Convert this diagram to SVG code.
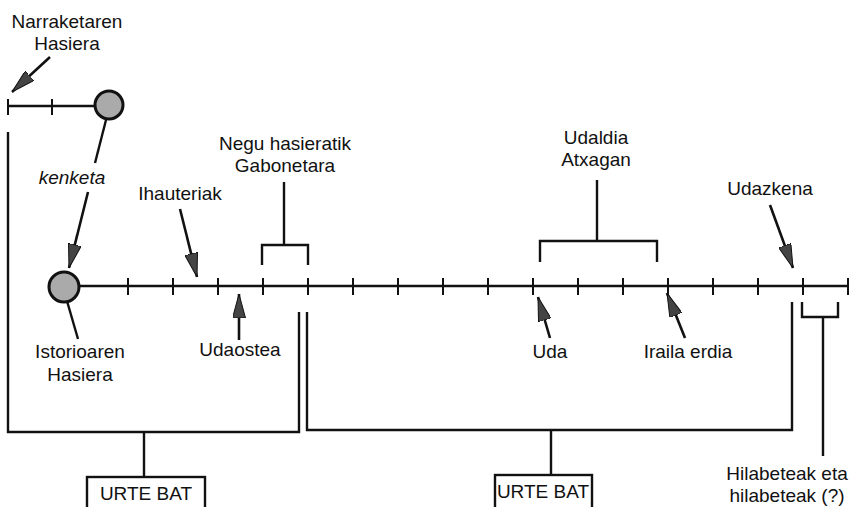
<svg xmlns="http://www.w3.org/2000/svg" width="850" height="507" viewBox="0 0 850 507">
<defs>
<marker id="ah" viewBox="0 0 24 13" refX="24" refY="6.5" markerWidth="24" markerHeight="13" markerUnits="userSpaceOnUse" orient="auto">
<path d="M0,0 L24,6.5 L0,13 Z" fill="#444" stroke="#111" stroke-width="1"/>
</marker>
</defs>
<style>
.ln{stroke:#111;stroke-width:2.4;fill:none;stroke-linecap:butt}
.tk{stroke:#111;stroke-width:2;fill:none}
.ar{stroke:#111;stroke-width:2.6;fill:none;marker-end:url(#ah)}
.t{font-family:"Liberation Sans",Arial,sans-serif;font-size:19px;fill:#111;text-anchor:middle}
.it{font-style:italic}
.dot{fill:#aaa;stroke:#111;stroke-width:3}
.box{fill:#fff;stroke:#111;stroke-width:2.4}
</style>
<rect width="850" height="507" fill="#fff"/>
<g id="connectors">
<line class="ln" x1="8" y1="106" x2="96" y2="106"/>
<line class="tk" x1="8" y1="99" x2="8" y2="115"/>
<line class="tk" x1="52" y1="99" x2="52" y2="115"/>
<line class="ln" x1="80" y1="286" x2="848" y2="286"/>
<path class="tk" d="M128,278V295M173,278V295M218,278V295M263,278V295M308,278V295M353,278V295M398,278V295M443,278V295M488,278V295M533,278V295M578,278V295M623,278V295M668,278V295M713,278V295M758,278V295M803,278V295M848,278V295"/>
<line class="ln" x1="106" y1="120" x2="95" y2="163"/>
<line class="ar" x1="88" y1="192" x2="69" y2="268"/>
<line class="ln" x1="67" y1="301" x2="78" y2="339"/>
<line class="ar" x1="50" y1="57" x2="12" y2="92"/>
<line class="ar" x1="180" y1="209" x2="197" y2="277"/>
<line class="ar" x1="239" y1="340" x2="239" y2="294"/>
<line class="ar" x1="550" y1="338" x2="538" y2="297"/>
<line class="ar" x1="685" y1="338" x2="667" y2="293"/>
<line class="ar" x1="770" y1="205" x2="793" y2="268"/>
<path class="ln" d="M284,182V245M262,265V245H308V265"/>
<path class="ln" d="M597,180V241M540,262V241H657V262"/>
<path class="ln" d="M8,132V432H299V312M144,432V477"/>
<path class="ln" d="M307,312V430H792V302M551,430V475"/>
<path class="ln" d="M802,302V317H838V302M823,317V456"/>
</g>
<g id="node-top-circle"><circle class="dot" cx="109" cy="105" r="14"/></g>
<g id="node-main-circle"><circle class="dot" cx="64" cy="287" r="15"/></g>
<g id="node-narraketaren"><text class="t" x="67" y="28">Narraketaren</text><text class="t" x="67" y="50">Hasiera</text></g>
<g id="node-kenketa"><text class="t it" x="72" y="184">kenketa</text></g>
<g id="node-ihauteriak"><text class="t" x="180" y="200">Ihauteriak</text></g>
<g id="node-negu"><text class="t" x="285" y="150">Negu hasieratik</text><text class="t" x="285" y="172">Gabonetara</text></g>
<g id="node-udaldia"><text class="t" x="596" y="144">Udaldia</text><text class="t" x="596" y="166">Atxagan</text></g>
<g id="node-udazkena"><text class="t" x="770" y="195">Udazkena</text></g>
<g id="node-istorioaren"><text class="t" x="80" y="358">Istorioaren</text><text class="t" x="80" y="381">Hasiera</text></g>
<g id="node-udaostea"><text class="t" x="240" y="356">Udaostea</text></g>
<g id="node-uda"><text class="t" x="550" y="358">Uda</text></g>
<g id="node-iraila"><text class="t" x="688" y="358">Iraila erdia</text></g>
<g id="node-urte1"><rect class="box" x="87" y="477" width="118" height="34"/><text class="t" x="146" y="500">URTE BAT</text></g>
<g id="node-urte2"><rect class="box" x="495" y="475" width="97" height="34"/><text class="t" x="543" y="498">URTE BAT</text></g>
<g id="node-hilabeteak"><text class="t" x="787" y="480">Hilabeteak eta</text><text class="t" x="787" y="502">hilabeteak (?)</text></g>
</svg>
